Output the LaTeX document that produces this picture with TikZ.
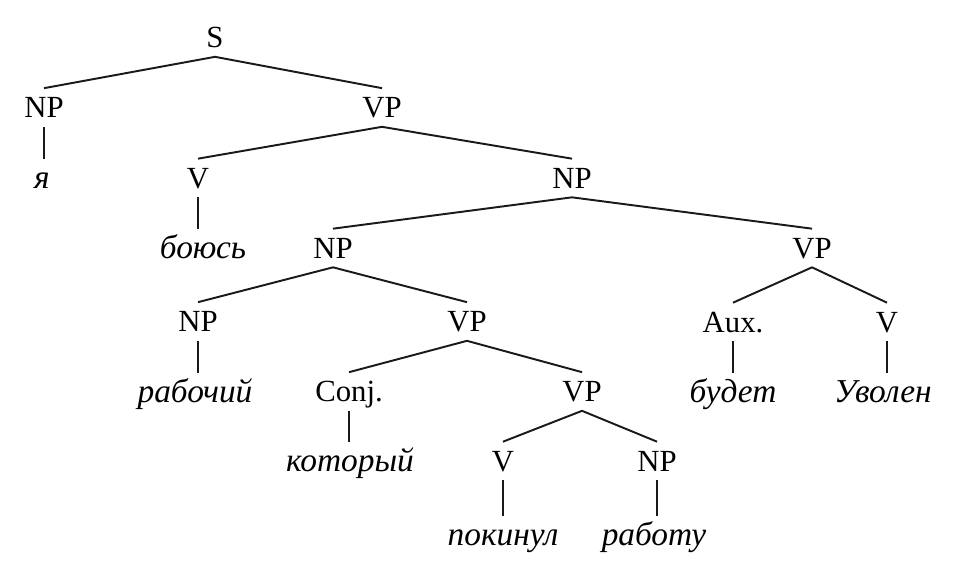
\documentclass[tikz,border=0pt]{standalone}
\usepackage{fontspec}
\setmainfont{Liberation Serif}
\usepackage{tikz}
\usepackage{xcolor}
\definecolor{treeink}{RGB}{25,25,25}
\tikzstyle{cat} = [inner xsep=2pt, inner ysep=5pt, text height=11.6pt, text depth=0pt, font=\fontsize{17.5}{21}\selectfont]
\tikzstyle{word} = [cat, font=\fontsize{19}{23}\selectfont\itshape]
\tikzstyle{branch} = [line width=1.1pt, color=treeink]

\begin{document}
\begin{tikzpicture}[x=0.02cm, y=-0.02cm]
\useasboundingbox (0,0) rectangle (959,574);
% Root
\node[cat] (s) at (215,37.5) {S};

% Level 1
\node[cat] (np1) at (44,107.5) {NP};
\node[cat] (vp1) at (382,107.5) {VP};

% Level 2
\node[word] (ya) at (42,178) {я};
\node[cat] (v1) at (198,178) {V};
\node[cat] (np2) at (572,178) {NP};

% Level 3
\node[word] (boyus) at (203,248) {боюсь};
\node[cat] (np3) at (333,248) {NP};
\node[cat] (vp2) at (812,248) {VP};

% Level 4
\node[cat] (np4) at (198,321.5) {NP};
\node[cat] (vp3) at (467,321.5) {VP};
\node[cat] (aux) at (733,322) {Aux.};
\node[cat] (v2) at (887,322) {V};

% Level 5
\node[word] (rabochiy) at (195,392) {рабочий};
\node[cat] (conj) at (349,391.5) {Conj.};
\node[cat] (vp4) at (582,391.5) {VP};
\node[word] (budet) at (733,392) {будет};
\node[word] (uvolen) at (883,392) {Уволен};

% Level 6
\node[word] (kotoryj) at (350,461) {который};
\node[cat] (v3) at (503,461) {V};
\node[cat] (np5) at (657,461) {NP};

% Level 7
\node[word] (pokinul) at (503,535) {покинул};
\node[word] (rabotu) at (654,535) {работу};

% Branches
\draw[branch] (s.south) -- (np1.north);
\draw[branch] (s.south) -- (vp1.north);
\draw[branch] (vp1.south) -- (v1.north);
\draw[branch] (vp1.south) -- (np2.north);
\draw[branch] (np2.south) -- (np3.north);
\draw[branch] (np2.south) -- (vp2.north);
\draw[branch] (np3.south) -- (np4.north);
\draw[branch] (np3.south) -- (vp3.north);
\draw[branch] (vp3.south) -- (conj.north);
\draw[branch] (vp3.south) -- (vp4.north);
\draw[branch] (vp4.south) -- (v3.north);
\draw[branch] (vp4.south) -- (np5.north);
\draw[branch] (vp2.south) -- (aux.north);
\draw[branch] (vp2.south) -- (v2.north);

% Words
\draw[branch] (np1.south) -- (np1.south |- ya.north);
\draw[branch] (v1.south) -- (v1.south |- boyus.north);
\draw[branch] (np4.south) -- (np4.south |- rabochiy.north);
\draw[branch] (conj.south) -- (conj.south |- kotoryj.north);
\draw[branch] (v3.south) -- (v3.south |- pokinul.north);
\draw[branch] (np5.south) -- (np5.south |- rabotu.north);
\draw[branch] (aux.south) -- (aux.south |- budet.north);
\draw[branch] (v2.south) -- (v2.south |- uvolen.north);
\end{tikzpicture}
\end{document}
